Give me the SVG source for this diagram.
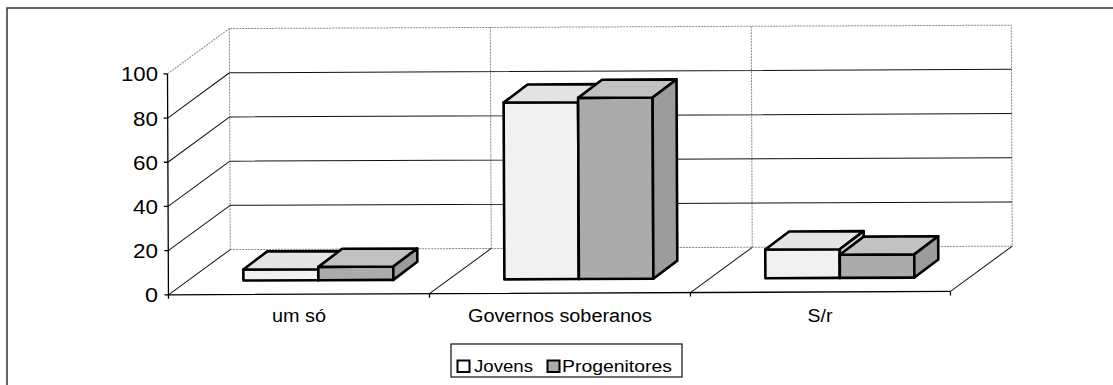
<svg xmlns="http://www.w3.org/2000/svg" width="1113" height="385" viewBox="0 0 1113 385">
<style>
  text { font-family: "Liberation Sans", Arial, sans-serif; fill: #000; }
  .ylab { font-size: 20.5px; text-anchor: end; }
  .clab { font-size: 18px; text-anchor: middle; }
  .leg { font-size: 16px; }
  .grid { stroke: #111; stroke-width: 1; fill: none; }
  .edge { stroke: #888; stroke-width: 1; stroke-dasharray: 2 1; fill: none; }
  .axis { stroke: #000; stroke-width: 1.3; fill: none; }
  .bar { stroke: #000; stroke-width: 2.6; stroke-linejoin: round; }
  .jf { fill: #f1f1f1; } .jt { fill: #e4e4e4; } .js { fill: #d6d6d6; }
  .pf { fill: #ababab; } .pt { fill: #c2c2c2; } .ps { fill: #9c9c9c; }
</style>

<!-- outer frame -->
<g id="frame">
  <path d="M7,385 V8 H1113" stroke="#333" stroke-width="1.5" fill="none"/>
</g>

<g id="chart" transform="rotate(-0.25 590 190)">
  <g id="walls">
    <path class="edge" d="M230,248 V27 H1012 V248"/>
    <path class="edge" d="M491,27 V248 M752,27 V248"/>
    <path class="edge" d="M230,248 H1012"/>
    <path class="edge" d="M168,72 L230,27"/>
  </g>
  <g id="connectors">
    <path class="grid" d="M230,203.8 H1012 M230,159.6 H1012 M230,115.4 H1012 M230,71.2 H1012"/>
    <path class="grid" d="M168,293 L230,248 M168,248.8 L230,203.8 M168,204.6 L230,159.6 M168,160.4 L230,115.4 M168,116.2 L230,71.2"/>
    <path class="grid" d="M429,293 L491,248 M690,293 L752,248 M950,293 L1012,248"/>
    <path class="axis" d="M168,72 V293 H950"/>
    <path class="axis" d="M164,72 H168 M164,116.2 H168 M164,160.4 H168 M164,204.6 H168 M164,248.8 H168 M164,293 H168"/>
    <path class="axis" d="M168,293 V297 M429,293 V297 M690,293 V297 M950,293 V297"/>
  </g>

  <g id="bar-umso-jovens">
    <rect class="bar jf" x="243" y="268" width="75" height="11"/>
    <path class="bar jt" d="M243,268 L267,250 L342,250 L318,268 Z"/>
    <path class="bar js" d="M318,268 L342,250 L342,261 L318,279 Z"/>
  </g>
  <g id="bar-umso-progenitores">
    <rect class="bar pf" x="318" y="265.7" width="75" height="13.3"/>
    <path class="bar pt" d="M318,265.7 L342,247.7 L417,247.7 L393,265.7 Z"/>
    <path class="bar ps" d="M393,265.7 L417,247.7 L417,261 L393,279 Z"/>
  </g>

  <g id="bar-gov-jovens">
    <rect class="bar jf" x="504" y="102.2" width="74.5" height="176.8"/>
    <path class="bar jt" d="M504,102.2 L528,84.2 L602.5,84.2 L578.5,102.2 Z"/>
    <path class="bar js" d="M578.5,102.2 L602.5,84.2 L602.5,261 L578.5,279 Z"/>
  </g>
  <g id="bar-gov-progenitores">
    <rect class="bar pf" x="578.5" y="97.8" width="74.5" height="181.2"/>
    <path class="bar pt" d="M578.5,97.8 L602.5,79.8 L677,79.8 L653,97.8 Z"/>
    <path class="bar ps" d="M653,97.8 L677,79.8 L677,261 L653,279 Z"/>
  </g>

  <g id="bar-sr-jovens">
    <rect class="bar jf" x="765" y="250.3" width="74.5" height="28.7"/>
    <path class="bar jt" d="M765,250.3 L789,232.3 L863.5,232.3 L839.5,250.3 Z"/>
    <path class="bar js" d="M839.5,250.3 L863.5,232.3 L863.5,261 L839.5,279 Z"/>
  </g>
  <g id="bar-sr-progenitores">
    <rect class="bar pf" x="839.5" y="255.8" width="74.5" height="23.2"/>
    <path class="bar pt" d="M839.5,255.8 L863.5,237.8 L938,237.8 L914,255.8 Z"/>
    <path class="bar ps" d="M914,255.8 L938,237.8 L938,261 L914,279 Z"/>
  </g>
</g>

<g id="y-labels">
  <text class="ylab" x="158" y="81" textLength="37" lengthAdjust="spacingAndGlyphs">100</text>
  <text class="ylab" x="158" y="126" textLength="25" lengthAdjust="spacingAndGlyphs">80</text>
  <text class="ylab" x="158" y="170" textLength="25" lengthAdjust="spacingAndGlyphs">60</text>
  <text class="ylab" x="158" y="214" textLength="25" lengthAdjust="spacingAndGlyphs">40</text>
  <text class="ylab" x="158" y="258" textLength="25" lengthAdjust="spacingAndGlyphs">20</text>
  <text class="ylab" x="158" y="302" textLength="13" lengthAdjust="spacingAndGlyphs">0</text>
</g>

<g id="category-labels">
  <text class="clab" x="299" y="322" textLength="54" lengthAdjust="spacingAndGlyphs">um só</text>
  <text class="clab" x="560" y="322" textLength="184" lengthAdjust="spacingAndGlyphs">Governos soberanos</text>
  <text class="clab" x="820" y="322" textLength="25" lengthAdjust="spacingAndGlyphs">S/r</text>
</g>

<g id="legend">
  <rect x="451" y="344" width="231" height="33" fill="#fff" stroke="#222" stroke-width="1.3"/>
  <rect x="457.5" y="360.5" width="12" height="11.5" fill="#fff" stroke="#000" stroke-width="2"/>
  <text class="leg" x="474" y="372" textLength="59" lengthAdjust="spacingAndGlyphs">Jovens</text>
  <rect x="547.5" y="360.5" width="12" height="11.5" fill="#ababab" stroke="#000" stroke-width="2"/>
  <text class="leg" x="562" y="372" textLength="110" lengthAdjust="spacingAndGlyphs">Progenitores</text>
</g>
</svg>
